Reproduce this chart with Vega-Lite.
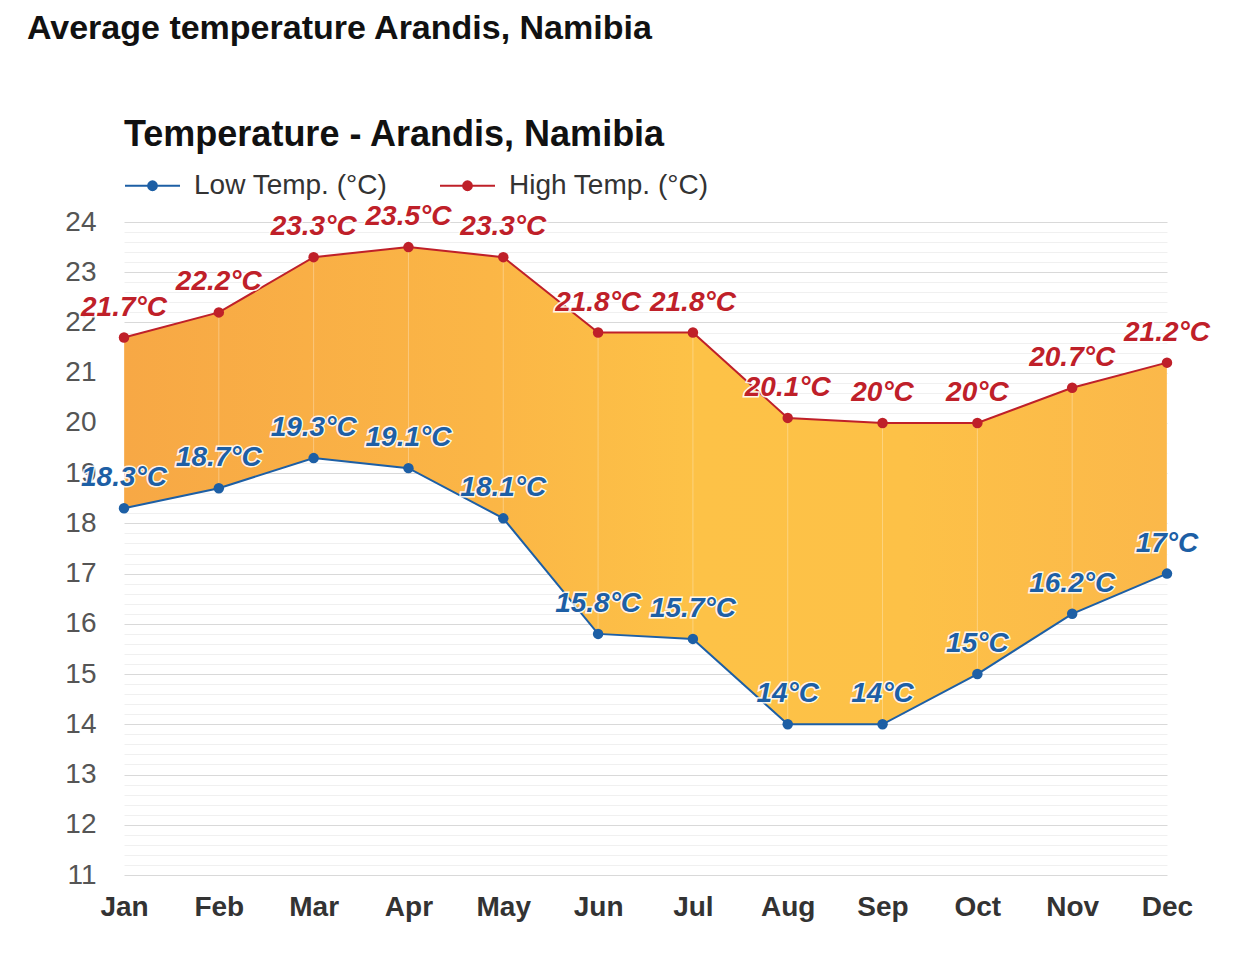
{
  "$schema": "https://vega.github.io/schema/vega-lite/v6.json",
  "width": 1043,
  "height": 653,
  "autosize": {"type": "none"},
  "padding": {"left": 124, "top": 222, "right": 66, "bottom": 85},
  "background": "white",
  "config": {"view": {"stroke": null}},
  "title": {
    "text": "Average temperature Arandis, Namibia",
    "anchor": "start",
    "frame": "group",
    "dx": -97,
    "offset": 72,
    "font": "Liberation Sans",
    "fontSize": 34,
    "fontWeight": "bold",
    "color": "#111111"
  },
  "resolve": {"axis": {"y": "independent"}},
  "data": {
    "values": [
      {"month": "Jan", "low": 18.3, "high": 21.7},
      {"month": "Feb", "low": 18.7, "high": 22.2},
      {"month": "Mar", "low": 19.3, "high": 23.3},
      {"month": "Apr", "low": 19.1, "high": 23.5},
      {"month": "May", "low": 18.1, "high": 23.3},
      {"month": "Jun", "low": 15.8, "high": 21.8},
      {"month": "Jul", "low": 15.7, "high": 21.8},
      {"month": "Aug", "low": 14.0, "high": 20.1},
      {"month": "Sep", "low": 14.0, "high": 20.0},
      {"month": "Oct", "low": 15.0, "high": 20.0},
      {"month": "Nov", "low": 16.2, "high": 20.7},
      {"month": "Dec", "low": 17.0, "high": 21.2}
    ]
  },
  "encoding": {
    "x": {
      "field": "month",
      "type": "ordinal",
      "sort": ["Jan", "Feb", "Mar", "Apr", "May", "Jun", "Jul", "Aug", "Sep", "Oct", "Nov", "Dec"],
      "scale": {"type": "point", "padding": 0},
      "title": null,
      "axis": {
        "labelAngle": 0,
        "labelFont": "Liberation Sans",
        "labelFontSize": 28,
        "labelFontWeight": "bold",
        "labelColor": "#333333",
        "labelPadding": 18,
        "ticks": false,
        "domain": false,
        "grid": false
      }
    }
  },
  "layer": [
    {
      "mark": {"type": "rule", "color": "#ffffff", "opacity": 0},
      "encoding": {
        "y": {
          "field": "high",
          "type": "quantitative",
          "title": null,
          "scale": {"domain": [11, 24], "nice": false, "zero": false},
          "axis": {
            "orient": "left",
            "values": [11.2, 11.4, 11.6, 11.8, 12.2, 12.4, 12.6, 12.8, 13.2, 13.4, 13.6, 13.8, 14.2, 14.4, 14.6, 14.8, 15.2, 15.4, 15.6, 15.8, 16.2, 16.4, 16.6, 16.8, 17.2, 17.4, 17.6, 17.8, 18.2, 18.4, 18.6, 18.8, 19.2, 19.4, 19.6, 19.8, 20.2, 20.4, 20.6, 20.8, 21.2, 21.4, 21.6, 21.8, 22.2, 22.4, 22.6, 22.8, 23.2, 23.4, 23.6, 23.8],
            "labels": false,
            "ticks": false,
            "domain": false,
            "grid": true,
            "gridColor": "#f0f0f0",
            "gridWidth": 1
          }
        }
      }
    },
    {
      "mark": {
        "type": "area",
        "opacity": 1,
        "fill": {
          "gradient": "linear",
          "x1": 0, "y1": 0, "x2": 1, "y2": 0,
          "stops": [
            {"offset": 0, "color": "#f7a845"},
            {"offset": 0.35, "color": "#fbb646"},
            {"offset": 0.55, "color": "#fdc247"},
            {"offset": 0.75, "color": "#fdc147"},
            {"offset": 1, "color": "#fbb84a"}
          ]
        }
      },
      "encoding": {
        "y": {
          "field": "high",
          "type": "quantitative",
          "title": null,
          "scale": {"domain": [11, 24], "nice": false, "zero": false},
          "axis": {
            "orient": "left",
            "values": [11, 12, 13, 14, 15, 16, 17, 18, 19, 20, 21, 22, 23, 24],
            "labelOverlap": false,
            "labelFlush": false,
            "ticks": false,
            "domain": false,
            "grid": true,
            "labelPadding": 28,
            "labelFont": "Liberation Sans",
            "labelFontSize": 28,
            "labelColor": "#555555",
            "gridWidth": 1,
            "gridColor": "#d9d9d9"
          }
        },
        "y2": {"field": "low"}
      }
    },
    {
      "mark": {"type": "rule", "color": "#ffffff", "opacity": 0.3, "strokeWidth": 1},
      "encoding": {
        "y": {"field": "high", "type": "quantitative", "title": null, "axis": null},
        "y2": {"field": "low"}
      }
    },
    {
      "transform": [
        {"fold": ["low", "high"], "as": ["series", "temp"]},
        {"calculate": "format(datum.temp, '.1~f') + '°C'", "as": "label"}
      ],
      "encoding": {
        "y": {"field": "temp", "type": "quantitative", "title": null, "axis": null},
        "color": {
          "field": "series",
          "type": "nominal",
          "scale": {"domain": ["low", "high"], "range": ["#1d5fa5", "#bf2029"]},
          "legend": {
            "title": "Temperature - Arandis, Namibia",
            "orient": "top",
            "direction": "horizontal",
            "labelExpr": "datum.value == 'low' ? 'Low Temp. (°C)' : 'High Temp. (°C)'",
            "symbolType": "M-1,0L1,0M-0.16,0A0.16,0.16,0,1,0,0.16,0A0.16,0.16,0,1,0,-0.16,0Z",
            "symbolSize": 3025,
            "symbolStrokeWidth": 2,
            "labelFont": "Liberation Sans",
            "labelFontSize": 28,
            "labelColor": "#333333",
            "labelLimit": 400,
            "titleFont": "Liberation Sans",
            "titleFontSize": 36,
            "titleFontWeight": "bold",
            "titleColor": "#111111",
            "titleLimit": 1000,
            "titlePadding": 3,
            "labelOffset": 13,
            "columnPadding": 48,
            "offset": 22,
            "padding": 0,
            "encode": {
              "symbols": {
                "update": {
                  "fill": {"scale": "color", "field": "value"},
                  "stroke": {"scale": "color", "field": "value"}
                }
              }
            }
          }
        }
      },
      "layer": [
        {"mark": {"type": "line", "strokeWidth": 2}},
        {"mark": {"type": "point", "filled": true, "size": 110, "opacity": 1}},
        {
          "mark": {
            "type": "text",
            "font": "Liberation Sans",
            "fontSize": 28,
            "fontWeight": "bold",
            "fontStyle": "italic",
            "dy": -30,
            "baseline": "middle",
            "stroke": "#ffffff",
            "strokeWidth": 3,
            "strokeOpacity": 0.9
          },
          "encoding": {"text": {"field": "label"}, "color": {"value": "#ffffff"}}
        },
        {
          "mark": {
            "type": "text",
            "font": "Liberation Sans",
            "fontSize": 28,
            "fontWeight": "bold",
            "fontStyle": "italic",
            "dy": -30,
            "baseline": "middle"
          },
          "encoding": {"text": {"field": "label"}}
        }
      ]
    }
  ]
}
